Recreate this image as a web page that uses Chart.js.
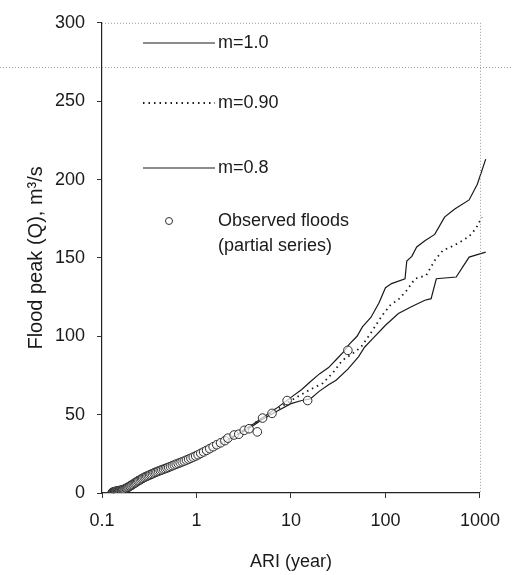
<!DOCTYPE html>
<html><head><meta charset="utf-8">
<script src="https://cdn.jsdelivr.net/npm/chart.js@4.4.1/dist/chart.umd.min.js"></script>
<style>html,body{margin:0;padding:0;background:#fff;}</style>
</head><body>
<canvas id="c" width="512" height="575" style="width:512px;height:575px;display:block"></canvas>
<script>
// ---- data ----
const xTicks = [0.1, 1, 10, 100, 1000];
const yTicks = [0, 50, 100, 150, 200, 250, 300];

const m10ARI = [0.13,0.15,0.2,0.25,0.3,0.4,0.5,0.7,1,1.5,2,3,4,5,7,10,13,16,20,25,30,36,41.5,50,57,70,85,100,116,161,168,190,214,261,332,422,536,768,937,1150];
const m10Q   = [0.3,1,3.5,6.5,9.5,13,15.5,19.5,23,28.5,33,39,44,48,54,61,66,71,76,80,85,90,95,100,106,112,121,131,133.6,136.7,148,151,157,161,165,176,181,187,197,213];

const m09ARI = [0.13,0.15,0.2,0.25,0.3,0.4,0.5,0.7,1,1.5,2,3,4,5,7,10,13,16,21.7,28,35,45,55,62,73,92.6,112,140,168,205,270,332,405,536,650,768,900,1050];
const m09Q   = [0.3,1,3.5,6.5,9.5,13,15.5,19.5,23,28.5,33,39,44,48,53,59,63,66,70,77,84.7,89,93,97.5,103.8,113.4,119.7,124,129.3,136.7,138.9,148.4,154.8,158,161,163.7,168.6,176];

const m08ARI = [0.13,0.15,0.2,0.25,0.3,0.4,0.5,0.7,1,1.5,2,3,4,5,7,10,13,16,20,25,30,40,52,60,72,100,137,190,261,304,345,560,768,1150];
const m08Q   = [0.3,1,3.5,6.5,9.5,13,15.5,19.5,23,28.5,33,38.5,43,47,52,57,59,60,65,69,72,79,87,93,98,107,114.5,119,123,124,136.7,137.8,150.5,153.7];

const obsARI = [0.128,0.130,0.132,0.134,0.136,0.138,0.140,0.142,0.145,0.147,0.150,0.153,0.156,0.159,0.162,0.165,0.168,0.172,0.176,0.180,
                0.184,0.188,0.193,0.198,0.203,0.208,0.214,0.220,0.226,0.232,0.239,0.246,0.254,0.262,0.270,0.279,0.288,0.298,0.308,0.319,
                0.330,0.342,0.355,0.368,0.382,0.397,0.413,0.430,0.448,0.467,0.487,0.508,0.531,0.556,0.582,0.610,0.640,0.672,0.706,0.743,
                0.783,0.826,0.873,0.924,0.980,1.04,1.11,1.19,1.28,1.38,1.50,1.64,1.80,2.0,2.15,2.5,2.8,3.2,3.6,4.4,5.0,6.3,9.1,15,40];
const obsQ   = [0.2,0.5,0.3,0.8,0.6,1.0,0.8,1.2,1.0,1.4,1.2,1.6,1.4,1.8,1.7,2.0,2.2,2.4,2.6,3.0,
                3.3,3.6,4.0,4.4,4.8,5.3,5.7,6.2,6.6,7.1,7.6,8.0,8.5,9.0,9.4,9.9,10.3,10.7,11.1,11.5,
                11.9,12.3,12.8,13.2,13.6,14.0,14.4,14.8,15.2,15.6,16.0,16.4,16.9,17.4,17.9,18.4,18.9,19.4,19.9,20.4,
                21.0,21.6,22.2,22.9,23.6,24.4,25.3,26.2,27.2,28.3,29.5,30.8,32.0,33.4,35,37,37.5,40,41,39,47.8,50.8,59,59,91];

const seriesLabels = ['m=1.0', 'm=0.90', 'm=0.8', 'Observed floods', '(partial series)'];

const pts = (xs, ys) => xs.map((x, i) => ({x: x, y: ys[i]}));

const FONT = "'Liberation Sans', Arial, sans-serif";
const INK = '#1a1a1a';

const frame = {
  id: 'frame',
  afterDraw(chart) {
    const {ctx, chartArea: a, scales} = chart;
    ctx.save();
    ctx.strokeStyle = '#9a9a9a';
    ctx.lineWidth = 1;
    ctx.setLineDash([1, 2]);
    ctx.beginPath();
    ctx.moveTo(a.left, a.top + 0.5); ctx.lineTo(a.right, a.top + 0.5);
    ctx.moveTo(a.right + 0.5, a.top); ctx.lineTo(a.right + 0.5, a.bottom);
    // faint scan line across the page
    const ys = Math.round(scales.y.getPixelForValue(272)) + 0.5;
    ctx.moveTo(0, ys); ctx.lineTo(chart.width, ys);
    ctx.stroke();
    ctx.restore();

    // legend
    ctx.save();
    ctx.font = '18px ' + FONT;
    ctx.fillStyle = INK;
    ctx.textBaseline = 'middle';
    const x0 = 143, x1 = 215, tx = 218;
    const rows = [43, 103, 168];
    ctx.strokeStyle = INK;
    ctx.lineWidth = 1.2;
    ctx.setLineDash([]);
    ctx.beginPath(); ctx.moveTo(x0, rows[0]); ctx.lineTo(x1, rows[0]); ctx.stroke();
    ctx.lineWidth = 1.8;
    ctx.setLineDash([1.5, 4]);
    ctx.beginPath(); ctx.moveTo(x0, rows[1]); ctx.lineTo(x1, rows[1]); ctx.stroke();
    ctx.lineWidth = 1.2;
    ctx.setLineDash([]);
    ctx.beginPath(); ctx.moveTo(x0, rows[2]); ctx.lineTo(x1, rows[2]); ctx.stroke();
    ctx.fillText(seriesLabels[0], tx, rows[0]);
    ctx.fillText(seriesLabels[1], tx, rows[1]);
    ctx.fillText(seriesLabels[2], tx, rows[2]);
    ctx.beginPath(); ctx.arc(169, 221, 3.5, 0, Math.PI * 2);
    ctx.fillStyle = '#fff'; ctx.fill();
    ctx.lineWidth = 1; ctx.strokeStyle = '#333'; ctx.stroke();
    ctx.fillStyle = INK;
    ctx.fillText(seriesLabels[3], tx, 221);
    ctx.fillText(seriesLabels[4], tx, 246);
    ctx.restore();
  }
};

new Chart(document.getElementById('c'), {
  type: 'line',
  data: {
    datasets: [
      { label: 'Observed floods (partial series)', data: pts(obsARI, obsQ), showLine: false,
        pointRadius: 4.3, pointBorderWidth: 1, pointBorderColor: '#2a2a2a', pointBackgroundColor: 'rgba(255,255,255,0.7)' },
      { label: 'm=1.0', data: pts(m10ARI, m10Q), borderColor: INK, borderWidth: 1.2, pointRadius: 0, tension: 0, clip: false },
      { label: 'm=0.90', data: pts(m09ARI, m09Q), borderColor: INK, borderWidth: 1.8, borderDash: [1.5, 4], pointRadius: 0, tension: 0, clip: false },
      { label: 'm=0.8', data: pts(m08ARI, m08Q), borderColor: INK, borderWidth: 1.2, pointRadius: 0, tension: 0, clip: false }
    ]
  },
  options: {
    responsive: false,
    animation: false,
    devicePixelRatio: 1,
    layout: { padding: { left: 0, right: 26, top: 22, bottom: 0 } },
    plugins: { legend: { display: false }, tooltip: { enabled: false } },
    scales: {
      x: {
        type: 'logarithmic', min: 0.1, max: 1000,
        afterBuildTicks: s => { s.ticks = xTicks.map(v => ({value: v})); },
        afterFit: s => { s.height = 82; },
        ticks: { color: INK, font: { family: FONT, size: 18 }, padding: 12, maxRotation: 0,
                 callback: v => String(v) },
        grid: { drawOnChartArea: false, tickLength: 5, color: '#333', lineWidth: 1 },
        border: { color: '#222', width: 1.2 },
        title: { display: true, text: 'ARI (year)', color: INK, font: { family: FONT, size: 18 }, padding: { top: 0, bottom: 2 } }
      },
      y: {
        type: 'linear', min: 0, max: 300,
        afterBuildTicks: s => { s.ticks = yTicks.map(v => ({value: v})); },
        afterFit: s => { s.width = 102; },
        ticks: { color: INK, font: { family: FONT, size: 18 }, padding: 12 },
        grid: { drawOnChartArea: false, tickLength: 5, color: '#333', lineWidth: 1 },
        border: { color: '#222', width: 1.2 },
        title: { display: true, text: 'Flood peak (Q), m³/s', color: INK, font: { family: FONT, size: 20 }, padding: { top: 24, bottom: 0 } }
      }
    }
  },
  plugins: [frame]
});
</script>
</body></html>
